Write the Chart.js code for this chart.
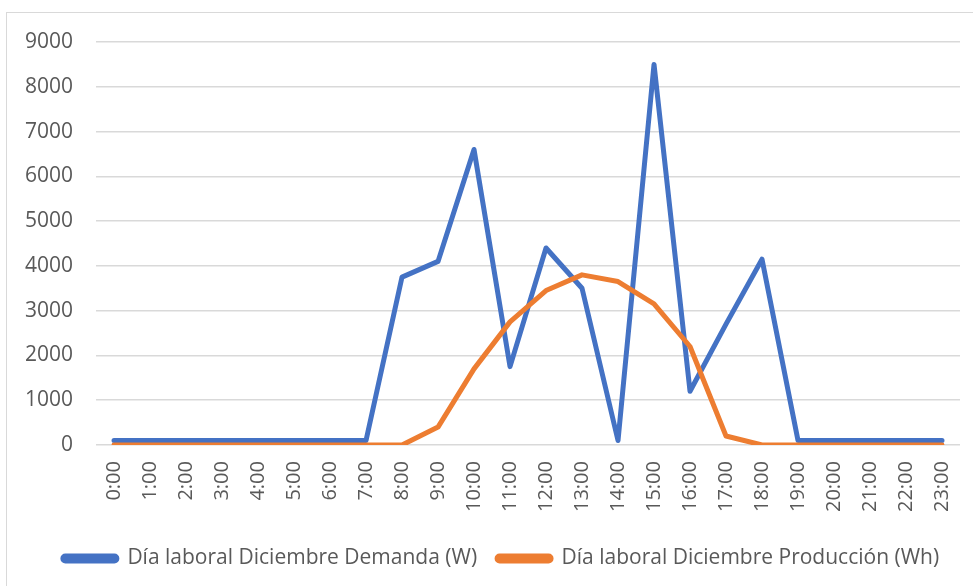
<!DOCTYPE html>
<html>
<head>
<meta charset="utf-8">
<script src="https://cdn.jsdelivr.net/npm/chart.js@4"></script>
<style>
  html, body { margin: 0; padding: 0; background: #ffffff; overflow: hidden; }
  #frame { position: absolute; left: 6px; top: 12px; width: 990px; height: 600px; border: 1.5px solid #d9d9d9; box-sizing: border-box; }
  #wrap { position: absolute; left: 0; top: 0; width: 973px; height: 586px; }
</style>
</head>
<body>
<div id="frame"></div>
<div id="wrap"><canvas id="chart" width="973" height="586"></canvas></div>
<script>
// Hourly profile for a December working day
const hours = ["0:00","1:00","2:00","3:00","4:00","5:00","6:00","7:00","8:00","9:00","10:00","11:00",
               "12:00","13:00","14:00","15:00","16:00","17:00","18:00","19:00","20:00","21:00","22:00","23:00"];
const demanda = [100,100,100,100,100,100,100,100,3750,4100,6600,1750,
                 4400,3500,100,8500,1200,2700,4150,100,100,100,100,100];
const produccion = [0,0,0,0,0,0,0,0,0,400,1700,2750,
                    3450,3800,3650,3150,2200,200,0,0,0,0,0,0];
const yTicks = [0,1000,2000,3000,4000,5000,6000,7000,8000,9000];

const BLUE = "#4472C4";
const ORANGE = "#ED7D31";
const TEXT = "#595959";
const GRID = "#d9d9d9";

// Nudge the legend row a little to the right of the canvas centre
const legendShift = {
  id: "legendShift",
  afterLayout(chart) {
    if (chart.legend) { chart.legend.left += 20; chart.legend.right += 20; }
  }
};

new Chart(document.getElementById("chart"), {
  type: "line",
  data: {
    labels: hours,
    datasets: [
      { label: "Día laboral Diciembre Demanda (W)", data: demanda, borderColor: BLUE, backgroundColor: BLUE,
        borderWidth: 5, pointRadius: 0, tension: 0, borderJoinStyle: "round", borderCapStyle: "round", order: 1 },
      { label: "Día laboral Diciembre Producción (Wh)", data: produccion, borderColor: ORANGE, backgroundColor: ORANGE,
        borderWidth: 5, pointRadius: 0, tension: 0, borderJoinStyle: "round", borderCapStyle: "round", order: 0 }
    ]
  },
  plugins: [legendShift],
  options: {
    responsive: false,
    animation: false,
    layout: { padding: { left: 2, right: 13, top: 42, bottom: 7 } },
    plugins: {
      tooltip: { enabled: false },
      legend: {
        position: "bottom",
        labels: {
          sort: (a, b) => a.datasetIndex - b.datasetIndex,
          color: TEXT,
          font: { family: "'Open Sans', sans-serif", size: 21 },
          boxWidth: 54,
          boxHeight: 5,
          useBorderRadius: true,
          borderRadius: 2.5,
          padding: 20
        }
      }
    },
    scales: {
      x: {
        offset: true,
        grid: { display: false, drawTicks: false },
        border: { display: false },
        afterFit: (axis) => { axis.paddingRight = 0; },
        ticks: {
          color: TEXT,
          font: { family: "'Open Sans', sans-serif", size: 20 },
          minRotation: 90, maxRotation: 90, padding: 16, autoSkip: false
        }
      },
      y: {
        min: 0, max: 9000,
        afterBuildTicks: (axis) => { axis.ticks = yTicks.map(v => ({ value: v })); },
        grid: { color: GRID, lineWidth: 1.5, drawTicks: false },
        border: { display: false },
        ticks: {
          color: TEXT,
          font: { family: "'Open Sans', sans-serif", size: 21 },
          padding: 23,
          callback: (v) => String(v)
        }
      }
    }
  }
});
</script>
</body>
</html>
